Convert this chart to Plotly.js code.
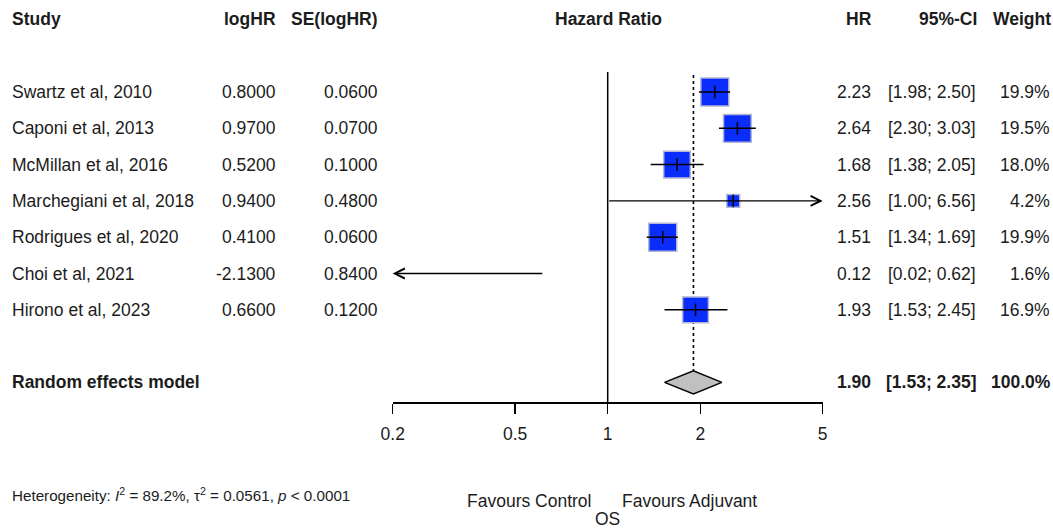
<!DOCTYPE html>
<html>
<head>
<meta charset="utf-8">
<script src="https://cdn.plot.ly/plotly-3.0.1.min.js"></script>
<style>html,body{margin:0;padding:0;background:#fff;}#chart{width:1053px;height:529px;}</style>
</head>
<body>
<div id="chart"></div>
<script>
// ---- data ----
const studies = ["Swartz et al, 2010","Caponi et al, 2013","McMillan et al, 2016","Marchegiani et al, 2018","Rodrigues et al, 2020","Choi et al, 2021","Hirono et al, 2023"];
const logHR = [0.8000, 0.9700, 0.5200, 0.9400, 0.4100, -2.1300, 0.6600];
const seLogHR = [0.0600, 0.0700, 0.1000, 0.4800, 0.0600, 0.8400, 0.1200];
const hr = [2.23, 2.64, 1.68, 2.56, 1.51, 0.12, 1.93];
const ciLow = [1.98, 2.30, 1.38, 1.00, 1.34, 0.02, 1.53];
const ciHigh = [2.50, 3.03, 2.05, 6.56, 1.69, 0.62, 2.45];
const weight = [19.9, 19.5, 18.0, 4.2, 19.9, 1.6, 16.9];
const summaryLabel = "Random effects model";
const summaryHR = 1.90, summaryLow = 1.53, summaryHigh = 2.35, summaryWeight = 100.0;
const xTicks = [0.2, 0.5, 1, 2, 5];
const xTickLabels = ["0.2", "0.5", "1", "2", "5"];
const heterogeneity = "Heterogeneity: <i>I</i><sup>2</sup> = 89.2%, τ<sup>2</sup> = 0.0561, <i>p</i> &lt; 0.0001";

// ---- layout constants ----
const W = 1053, H = 529;
const FONT = "Liberation Sans, Arial, sans-serif";
const TXT = "#1c1c1c";
const FS = 17.5;
const rowPx0 = 92, rowStep = 36.3;
const rowAt = py => 1 + (py - rowPx0) / rowStep;
const xMin = xTicks[0], xMax = xTicks[xTicks.length - 1];
const rows = studies.map((_, i) => i + 1);
const sumRow = studies.length + 2;
const headRow = -1;
const maxW = Math.max(...weight);
const boxMax = 28;

const traces = [];
// reference line at 1
traces.push({x:[1,1], y:[rowAt(72), rowAt(402)], mode:'lines', line:{color:'#000', width:1.5}, hoverinfo:'skip'});
// dotted summary line
traces.push({x:[summaryHR, summaryHR], y:[rowAt(75), sumRow - 0.32], mode:'lines', line:{color:'#000', width:1.6, dash:'dot'}, hoverinfo:'skip'});
// boxes
traces.push({x:hr, y:rows, mode:'markers', marker:{symbol:'square', color:'#0b2dfb', opacity:1, size:weight.map(w => boxMax*Math.sqrt(w/maxW)), line:{color:'#b4b6d6', width:1.5}}, hoverinfo:'skip'});
// CI lines (not clipped)
studies.forEach((s, i) => {
  if (ciLow[i] >= xMin && ciHigh[i] <= xMax) {
    traces.push({x:[ciLow[i], ciHigh[i]], y:[rows[i], rows[i]], mode:'lines', line:{color:'#000', width:1.5}, hoverinfo:'skip'});
  }
});
// point estimate ticks
traces.push({x:hr, y:rows, mode:'markers', marker:{symbol:'line-ns', size:9, opacity:1, line:{color:'#000', width:1.5}}, hoverinfo:'skip'});
// summary diamond
traces.push({x:[summaryLow, summaryHR, summaryHigh, summaryHR, summaryLow], y:[sumRow, sumRow-0.317, sumRow, sumRow+0.317, sumRow], mode:'lines', fill:'toself', fillcolor:'#c0c0c0', line:{color:'#000', width:1.5}, hoverinfo:'skip'});

const ann = [];
function txt(px, row, text, anchor, opts) {
  ann.push(Object.assign({xref:'paper', yref:'y', x:px/W, y:row, text:text, xanchor:anchor, yanchor:'middle', showarrow:false, borderpad:0, borderwidth:0, font:{family:FONT, size:FS, color:TXT}}, opts||{}));
}
// arrows for clipped CIs
studies.forEach((s, i) => {
  if (ciHigh[i] > xMax) {
    ann.push({xref:'x', yref:'y', axref:'x', ayref:'y', x:Math.log10(xMax), y:rows[i], ax:Math.log10(Math.max(ciLow[i], xMin)), ay:rows[i], showarrow:true, arrowhead:5, arrowsize:1.4, arrowwidth:1.4, arrowcolor:'#000', text:'', standoff:0, startstandoff:0});
  }
  if (ciLow[i] < xMin) {
    ann.push({xref:'x', yref:'y', axref:'x', ayref:'y', x:Math.log10(xMin), y:rows[i], ax:Math.log10(Math.min(ciHigh[i], xMax)), ay:rows[i], showarrow:true, arrowhead:5, arrowsize:1.4, arrowwidth:1.4, arrowcolor:'#000', text:'', standoff:0, startstandoff:0});
  }
});
// headers
txt(12, headRow, "<b>Study</b>", 'left');
txt(276, headRow, "<b>logHR</b>", 'right');
txt(378, headRow, "<b>SE(logHR)</b>", 'right');
txt(608, headRow, "<b>Hazard Ratio</b>", 'center');
txt(872, headRow, "<b>HR</b>", 'right');
txt(977, headRow, "<b>95%-CI</b>", 'right');
txt(1051, headRow, "<b>Weight</b>", 'right');
// rows
studies.forEach((s, i) => {
  txt(12, rows[i], s, 'left');
  txt(276, rows[i], logHR[i].toFixed(4), 'right');
  txt(378, rows[i], seLogHR[i].toFixed(4), 'right');
  txt(871, rows[i], hr[i].toFixed(2), 'right');
  txt(976, rows[i], "[" + ciLow[i].toFixed(2) + "; " + ciHigh[i].toFixed(2) + "]", 'right');
  txt(1050, rows[i], weight[i].toFixed(1) + "%", 'right');
});
txt(12, sumRow, "<b>" + summaryLabel + "</b>", 'left');
txt(871, sumRow, "<b>" + summaryHR.toFixed(2) + "</b>", 'right');
txt(976, sumRow, "<b>[" + summaryLow.toFixed(2) + "; " + summaryHigh.toFixed(2) + "]</b>", 'right');
txt(1051, sumRow, "<b>" + summaryWeight.toFixed(1) + "%</b>", 'right');
// bottom texts
function ptxt(px, py, text, anchor, size) {
  ann.push({xref:'paper', yref:'paper', x:px/W, y:1-py/H, text:text, xanchor:anchor, yanchor:'middle', showarrow:false, borderpad:0, borderwidth:0, font:{family:FONT, size:size, color:TXT}});
}
ptxt(12, 494, heterogeneity, 'left', 15.2);
ptxt(592, 501, "Favours Control", 'right', FS);
ptxt(622, 501, "Favours Adjuvant", 'left', FS);
ptxt(607, 519, "OS", 'center', FS);

const layout = {
  width:W, height:H,
  margin:{l:0, r:0, t:0, b:0},
  paper_bgcolor:'#fff', plot_bgcolor:'rgba(0,0,0,0)',
  showlegend:false, hovermode:false,
  xaxis:{type:'log', domain:[392.7/W, 822.7/W], range:[Math.log10(xMin), Math.log10(xMax)],
    anchor:'free', position:1-402/H, showline:true, linecolor:'#000', linewidth:1.5,
    ticks:'outside', ticklen:10, tickwidth:1.5, tickcolor:'#000', ticklabelstandoff:5,
    tickvals:xTicks, ticktext:xTickLabels, showgrid:false, zeroline:false,
    tickfont:{family:FONT, size:FS, color:TXT}, fixedrange:true},
  yaxis:{domain:[0,1], range:[rowAt(H), rowAt(0)], visible:false, showgrid:false, zeroline:false, fixedrange:true},
  annotations:ann
};
Plotly.newPlot('chart', traces, layout, {staticPlot:true, displayModeBar:false});
</script>
</body>
</html>
